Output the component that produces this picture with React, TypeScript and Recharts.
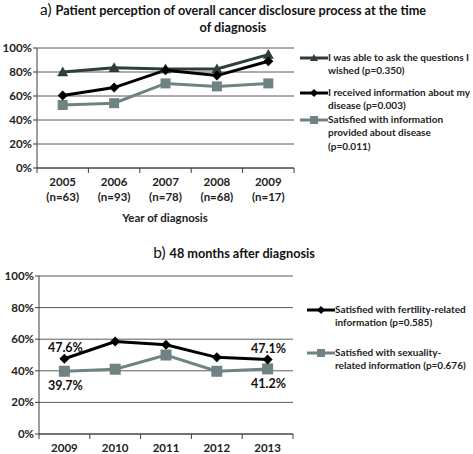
import React from 'react';
import { LineChart, Line, XAxis, YAxis, CartesianGrid, LabelList } from 'recharts';

// panel a: perception at diagnosis
const yearsA = ['2005', '2006', '2007', '2008', '2009'];
const nA = ['(n=63)', '(n=93)', '(n=78)', '(n=68)', '(n=17)'];
const askQuestions = [80, 83.5, 82.5, 82.5, 94.5];
const receivedInfo = [60.5, 67, 81.5, 77, 89];
const satisfiedInfo = [52.5, 54, 70.5, 68, 70.5];

// panel b: 48 months after diagnosis
const yearsB = ['2009', '2010', '2011', '2012', '2013'];
const fertility = [47.6, 58.5, 56.5, 48.5, 47.1];
const sexuality = [39.7, 41, 50, 39.7, 41.2];

const pctTicks = [0, 20, 40, 60, 80, 100];

const legendA = [
  { name: 'I was able to ask the questions I\nwished (p=0.350)', color: '#2f3d3f', marker: 'triangle' },
  { name: 'I received information about my\ndisease (p=0.003)', color: '#000000', marker: 'diamond' },
  { name: 'Satisfied with information\nprovided about disease\n(p=0.011)', color: '#6f8383', marker: 'square' },
];
const legendB = [
  { name: 'Satisfied with fertility-related\ninformation (p=0.585)', color: '#000000', marker: 'diamond' },
  { name: 'Satisfied with sexuality-\nrelated information (p=0.676)', color: '#6f8383', marker: 'square' },
];

const dataA = yearsA.map((y, i) => ({
  year: y,
  ask: askQuestions[i],
  received: receivedInfo[i],
  satisfied: satisfiedInfo[i],
}));

const dataB = yearsB.map((y, i) => ({
  year: y,
  fertility: fertility[i],
  sexuality: sexuality[i],
}));

const FONT = 'Lato, "DejaVu Sans", sans-serif';
const AXIS = '#3c3c3c';
const TXT = '#222';

// plot widths, used to centre the categories like Excel does
const plotWA = 473 - 179 - 37;
const plotWB = 473 - 180 - 39;

const Marker = ({ cx, cy, type, color, size }: any) => {
  if (cx == null || cy == null) return null;
  const s = size;
  if (type === 'triangle') {
    return <polygon points={`${cx},${cy - s} ${cx + s},${cy + s * 0.75} ${cx - s},${cy + s * 0.75}`} fill={color} />;
  }
  if (type === 'diamond') {
    return <polygon points={`${cx},${cy - s} ${cx + s},${cy} ${cx},${cy + s} ${cx - s},${cy}`} fill={color} />;
  }
  return <rect x={cx - s} y={cy - s} width={s * 2} height={s * 2} fill={color} />;
};

const makeDot = (type: string, color: string, size: number) => (props: any) => (
  <Marker key={`${type}-${props.index}`} cx={props.cx} cy={props.cy} type={type} color={color} size={size} />
);

const XTick = (props: any) => {
  const { x, y, payload, index, visibleTicksCount, width, sub, dy = 18 } = props;
  const off = width / visibleTicksCount / 2;
  const last = index === visibleTicksCount - 1;
  return (
    <g>
      <line x1={x - off} x2={x - off} y1={y} y2={y + 5} stroke={AXIS} />
      {last && <line x1={x + off} x2={x + off} y1={y} y2={y + 5} stroke={AXIS} />}
      <text x={x} y={y + dy} textAnchor="middle" fontSize={11.5} fontWeight="bold" fill={TXT} fontFamily={FONT}>
        {payload.value}
      </text>
      {sub && (
        <text x={x} y={y + dy + 15} textAnchor="middle" fontSize={11.5} fontWeight="bold" fill={TXT} fontFamily={FONT}>
          {sub[index]}
        </text>
      )}
    </g>
  );
};

const YTick = (props: any) => {
  const { x, y, payload } = props;
  return (
    <text x={x} y={y + 4} textAnchor="end" fontSize={11.5} fontWeight="bold" fill={TXT} fontFamily={FONT}>
      {`${payload.value}%`}
    </text>
  );
};

const EndLabel = (above: boolean) => (props: any) => {
  const { x, y, value, index } = props;
  if (index !== 0 && index !== yearsB.length - 1) return null;
  return (
    <text
      x={x + 1}
      y={above ? y - 7 : y + 19}
      textAnchor="middle"
      fontSize={12.5}
      fontWeight="bold"
      fill="#111"
      fontFamily={FONT}
    >
      {`${value}%`}
    </text>
  );
};

const LegendBox = ({ items, left, tops }: any) => (
  <>
    {items.map((it: any, i: number) => (
      <div
        key={it.name}
        style={{
          position: 'absolute',
          left,
          top: tops[i],
          display: 'flex',
          alignItems: 'flex-start',
          fontFamily: FONT,
          fontSize: 10,
          fontWeight: 'bold',
          color: TXT,
        }}
      >
        <svg width={28} height={14} style={{ flex: 'none' }}>
          <line x1={0} x2={28} y1={7} y2={7} stroke={it.color} strokeWidth={3} />
          <Marker cx={14} cy={7} type={it.marker} color={it.color} size={4} />
        </svg>
        <div style={{ whiteSpace: 'pre', lineHeight: '13.4px' }}>{it.name}</div>
      </div>
    ))}
  </>
);

export default function App() {
  return (
    <div style={{ position: 'absolute', left: 0, top: 0, width: 473, height: 454, background: '#fff', fontFamily: FONT }}>
      <div style={{ position: 'absolute', left: 0, top: 1, width: 466, textAlign: 'center', lineHeight: '16px', color: '#111' }}>
        <span style={{ fontSize: 15.5 }}>a) </span>
        <span style={{ fontSize: 12.7, fontWeight: 'bold' }}>
          Patient perception of overall cancer disclosure process at the time
          <br />
          of diagnosis
        </span>
      </div>

      <div style={{ position: 'absolute', left: 0, top: 0 }}>
        <LineChart width={473} height={215} data={dataA} margin={{ top: 48, right: 179, bottom: 0, left: 0 }}>
          <CartesianGrid vertical={false} stroke="#5a5a5a" />
          <XAxis
            dataKey="year"
            height={47}
            axisLine={{ stroke: AXIS }}
            tickLine={false}
            tickSize={0}
            tickMargin={0}
            interval={0}
            padding={{ left: plotWA / 10, right: plotWA / 10 }}
            tick={<XTick sub={nA} dy={18} />}
          />
          <YAxis
            width={37}
            domain={[0, 100]}
            ticks={pctTicks}
            axisLine={{ stroke: AXIS }}
            tickLine={{ stroke: AXIS }}
            tickSize={4}
            tickMargin={1}
            tick={<YTick />}
          />
          <Line dataKey="satisfied" stroke="#6f8383" strokeWidth={3} dot={makeDot('square', '#6f8383', 5)} isAnimationActive={false} />
          <Line dataKey="ask" stroke="#2f3d3f" strokeWidth={3} dot={makeDot('triangle', '#2f3d3f', 5.5)} isAnimationActive={false} />
          <Line dataKey="received" stroke="#000" strokeWidth={3} dot={makeDot('diamond', '#000', 5)} isAnimationActive={false} />
        </LineChart>
      </div>
      <div
        style={{ position: 'absolute', left: 105, top: 211, width: 120, textAlign: 'center', fontSize: 11.5, fontWeight: 'bold', color: TXT }}
      >
        Year of diagnosis
      </div>
      <LegendBox items={legendA} left={300} tops={[51, 86, 113]} />

      <div style={{ position: 'absolute', left: 0, top: 244, width: 468, textAlign: 'center', lineHeight: '16px', color: '#111' }}>
        <span style={{ fontSize: 15.5 }}>b) </span>
        <span style={{ fontSize: 12.7, fontWeight: 'bold' }}>48 months after diagnosis</span>
      </div>

      <div style={{ position: 'absolute', left: 0, top: 230 }}>
        <LineChart width={473} height={224} data={dataB} margin={{ top: 46, right: 180, bottom: 0, left: 0 }}>
          <CartesianGrid vertical={false} stroke="#5a5a5a" />
          <XAxis
            dataKey="year"
            height={20}
            axisLine={{ stroke: AXIS }}
            tickLine={false}
            tickSize={0}
            tickMargin={0}
            interval={0}
            padding={{ left: plotWB / 10, right: plotWB / 10 }}
            tick={<XTick dy={18} />}
          />
          <YAxis
            width={39}
            domain={[0, 100]}
            ticks={pctTicks}
            axisLine={{ stroke: AXIS }}
            tickLine={{ stroke: AXIS }}
            tickSize={4}
            tickMargin={1}
            tick={<YTick />}
          />
          <Line dataKey="sexuality" stroke="#6f8383" strokeWidth={3} dot={makeDot('square', '#6f8383', 5.5)} isAnimationActive={false}>
            <LabelList dataKey="sexuality" content={EndLabel(false)} />
          </Line>
          <Line dataKey="fertility" stroke="#000" strokeWidth={3} dot={makeDot('diamond', '#000', 5)} isAnimationActive={false}>
            <LabelList dataKey="fertility" content={EndLabel(true)} />
          </Line>
        </LineChart>
      </div>
      <LegendBox items={legendB} left={307} tops={[303, 346]} />
    </div>
  );
}
